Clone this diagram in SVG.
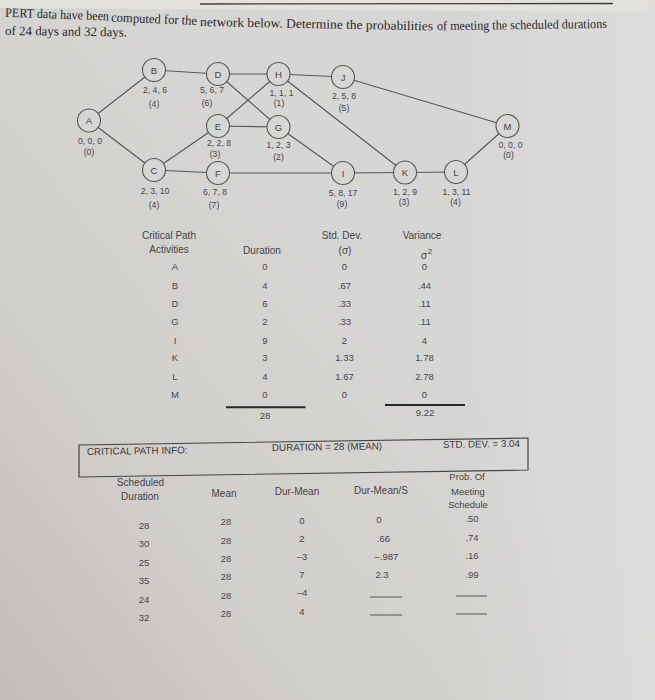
<svg xmlns="http://www.w3.org/2000/svg" width="655" height="700" viewBox="0 0 655 700">
<defs>
<linearGradient id="bg" x1="0" y1="700" x2="450" y2="350" gradientUnits="userSpaceOnUse">
<stop offset="0" stop-color="#c2bdb8"/>
<stop offset="0.45" stop-color="#d1cfcc"/>
<stop offset="1" stop-color="#d6d6d4"/>
</linearGradient>
<linearGradient id="rt" x1="450" y1="0" x2="655" y2="0" gradientUnits="userSpaceOnUse">
<stop offset="0" stop-color="#dcdcda" stop-opacity="0"/>
<stop offset="1" stop-color="#dedede" stop-opacity="0.8"/>
</linearGradient>
</defs>
<style>
.hd{font-family:"Liberation Serif","Times New Roman",serif;font-size:13px;fill:#2a2a2a}
.nl{font-family:"Liberation Sans",Arial,sans-serif;font-size:9.5px;fill:#444;text-anchor:middle}
.lb{font-family:"Liberation Sans",Arial,sans-serif;font-size:8.6px;fill:#444;text-anchor:middle}
.tx{font-family:"Liberation Sans",Arial,sans-serif;font-size:10px;fill:#444;text-anchor:middle}
.tv{font-family:"Liberation Sans",Arial,sans-serif;font-size:9.5px;fill:#474747;text-anchor:middle}
.ts{font-family:"Liberation Sans",Arial,sans-serif;font-size:9.8px;fill:#3a3a3a}
.node circle{fill:#d6d6d4;stroke:#555;stroke-width:1.1}
.edge line{stroke:#575757;stroke-width:1.1}
.rule{stroke:#262626;stroke-width:2}
.blank{stroke:#555;stroke-width:1}
</style>
<rect x="0" y="0" width="655" height="700" fill="url(#bg)"/>
<rect x="450" y="0" width="205" height="700" fill="url(#rt)"/>
<polygon points="0,0 648,0 648,12 0,8" fill="#e4e2dd"/>
<line x1="200" y1="4" x2="613" y2="3.5" stroke="#3a3a3a" stroke-width="1.3"/>

<!-- heading -->
<text class="hd" x="5" y="16.7" textLength="104" lengthAdjust="spacingAndGlyphs" transform="rotate(2.1 5 16.7)">PERT data have been</text>
<text class="hd" x="111" y="21.6" textLength="86" lengthAdjust="spacingAndGlyphs" transform="rotate(2.2 111 21.6)">computed for the</text>
<text class="hd" x="200" y="26" textLength="233" lengthAdjust="spacingAndGlyphs" transform="rotate(1.1 200 26)">network below. Determine the probabilities</text>
<text class="hd" x="437" y="30.3" textLength="170" lengthAdjust="spacingAndGlyphs" transform="rotate(-0.8 437 30.3)">of meeting the scheduled durations</text>
<text class="hd" x="5" y="35" textLength="122" lengthAdjust="spacingAndGlyphs" transform="rotate(0.7 5 35)">of 24 days and 32 days.</text>

<!-- connectors -->
<g id="connectors" class="edge">
<line x1="89" y1="120.5" x2="154" y2="70"/>
<line x1="89" y1="120.5" x2="154" y2="170"/>
<line x1="154" y1="70" x2="218" y2="74"/>
<line x1="218" y1="74" x2="278.5" y2="74"/>
<line x1="218" y1="74" x2="278.5" y2="127"/>
<line x1="218" y1="126" x2="278.5" y2="74"/>
<line x1="218" y1="126" x2="278.5" y2="127"/>
<line x1="154" y1="170" x2="218" y2="126"/>
<line x1="154" y1="170" x2="218" y2="173"/>
<line x1="218" y1="173" x2="343" y2="173"/>
<line x1="278.5" y1="127" x2="343" y2="173"/>
<line x1="278.5" y1="74" x2="343" y2="77"/>
<line x1="278.5" y1="74" x2="405" y2="172.5"/>
<line x1="343" y1="77" x2="507.5" y2="126"/>
<line x1="343" y1="173" x2="405" y2="172.5"/>
<line x1="405" y1="172.5" x2="456" y2="172"/>
<line x1="456" y1="172" x2="507.5" y2="126"/>
</g>

<!-- nodes -->
<g id="node-A" class="node"><circle cx="89" cy="120.5" r="11.5"/><text class="nl" x="89" y="124">A</text><text class="lb" x="90" y="144">0, 0, 0</text><text class="lb" x="89" y="155">(0)</text></g>
<g id="node-B" class="node"><circle cx="154" cy="70" r="11.5"/><text class="nl" x="154" y="73.5">B</text><text class="lb" x="155" y="93">2, 4, 6</text><text class="lb" x="154" y="106.5">(4)</text></g>
<g id="node-C" class="node"><circle cx="154" cy="170" r="11.5"/><text class="nl" x="154" y="173.5">C</text><text class="lb" x="155" y="194">2, 3, 10</text><text class="lb" x="154" y="208">(4)</text></g>
<g id="node-D" class="node"><circle cx="218" cy="74" r="11.5"/><text class="nl" x="218" y="77.5">D</text><text class="lb" x="212" y="93">5, 6, 7</text><text class="lb" x="207" y="105.5">(6)</text></g>
<g id="node-E" class="node"><circle cx="218" cy="126" r="11.5"/><text class="nl" x="218" y="129.5">E</text><text class="lb" x="219" y="145.5">2, 2, 8</text><text class="lb" x="215" y="157">(3)</text></g>
<g id="node-F" class="node"><circle cx="218" cy="173" r="11.5"/><text class="nl" x="218" y="176.5">F</text><text class="lb" x="215" y="195">6, 7, 8</text><text class="lb" x="214" y="208">(7)</text></g>
<g id="node-G" class="node"><circle cx="278.5" cy="127" r="11.5"/><text class="nl" x="278.5" y="130.5">G</text><text class="lb" x="278.5" y="147.5">1, 2, 3</text><text class="lb" x="278.5" y="160">(2)</text></g>
<g id="node-H" class="node"><circle cx="278.5" cy="74" r="11.5"/><text class="nl" x="278.5" y="77.5">H</text><text class="lb" x="281.5" y="95.5">1, 1, 1</text><text class="lb" x="279" y="106">(1)</text></g>
<g id="node-J" class="node"><circle cx="343" cy="77" r="11.5"/><text class="nl" x="343" y="80.5">J</text><text class="lb" x="344" y="99">2, 5, 8</text><text class="lb" x="344" y="111">(5)</text></g>
<g id="node-I" class="node"><circle cx="343" cy="173" r="11.5"/><text class="nl" x="343" y="176.5">I</text><text class="lb" x="343" y="195.5">5, 8, 17</text><text class="lb" x="342" y="207">(9)</text></g>
<g id="node-K" class="node"><circle cx="405" cy="172.5" r="11.5"/><text class="nl" x="405" y="176">K</text><text class="lb" x="405" y="194.5">1, 2, 9</text><text class="lb" x="404" y="205">(3)</text></g>
<g id="node-L" class="node"><circle cx="456" cy="172" r="11.5"/><text class="nl" x="456" y="175.5">L</text><text class="lb" x="456.5" y="194.5">1, 3, 11</text><text class="lb" x="455.5" y="205">(4)</text></g>
<g id="node-M" class="node"><circle cx="507.5" cy="126" r="11.5"/><text class="nl" x="507.5" y="129.5">M</text><text class="lb" x="510.5" y="147.5">0, 0, 0</text><text class="lb" x="508.5" y="157.5">(0)</text></g>

<!-- critical path table -->
<text class="tx" x="169" y="238.5">Critical Path</text>
<text class="tx" x="169" y="253">Activities</text>
<text class="tx" x="262" y="254">Duration</text>
<text class="tx" x="342" y="238.5">Std. Dev.</text>
<text class="tx" x="345" y="254">(σ)</text>
<text class="tx" x="422" y="239">Variance</text>
<text class="tx" x="424" y="258.5">σ</text>
<text class="tx" x="430" y="254" style="font-size:8px">2</text>

<g class="tv">
<text x="175" y="270.2">A</text><text x="265" y="270.2">0</text><text x="344.5" y="270.2">0</text><text x="424.5" y="270.2">0</text>
<text x="175" y="288.5">B</text><text x="265" y="288.5">4</text><text x="344.5" y="288.5">.67</text><text x="424.5" y="288.5">.44</text>
<text x="175" y="306.8">D</text><text x="265" y="306.8">6</text><text x="344.5" y="306.8">.33</text><text x="424.5" y="306.8">.11</text>
<text x="175" y="325.2">G</text><text x="265" y="325.2">2</text><text x="344.5" y="325.2">.33</text><text x="424.5" y="325.2">.11</text>
<text x="175" y="343.5">I</text><text x="265" y="343.5">9</text><text x="344.5" y="343.5">2</text><text x="424.5" y="343.5">4</text>
<text x="175" y="361.2">K</text><text x="265" y="361.2">3</text><text x="344.5" y="361.2">1.33</text><text x="424.5" y="361.2">1.78</text>
<text x="175" y="379.5">L</text><text x="265" y="379.5">4</text><text x="344.5" y="379.5">1.67</text><text x="424.5" y="379.5">2.78</text>
<text x="175" y="397.5">M</text><text x="265" y="397.5">0</text><text x="344.5" y="397.5">0</text><text x="424.5" y="397.5">0</text>
<text x="265" y="418.5">28</text>
<text x="425" y="416">9.22</text>
</g>
<line class="rule" x1="226" y1="407.3" x2="305.5" y2="407.3"/>
<line class="rule" x1="385" y1="405" x2="465" y2="405"/>

<!-- critical path info box -->
<polygon points="79,445 528,438 528,470 79,477" fill="none" stroke="#444" stroke-width="1.2"/>
<text class="ts" x="87" y="455" transform="rotate(-0.9 87 455)">CRITICAL PATH INFO:</text>
<text class="ts" x="272" y="451" transform="rotate(-0.9 272 451)">DURATION = 28 (MEAN)</text>
<text class="ts" x="443" y="448" textLength="77" lengthAdjust="spacingAndGlyphs" transform="rotate(-0.9 443 448)">STD. DEV. = 3.04</text>

<!-- probability table -->
<text class="tx" x="140.5" y="486">Scheduled</text>
<text class="tx" x="140" y="499.5">Duration</text>
<text class="tx" x="224" y="497">Mean</text>
<text class="tx" x="297" y="495">Dur-Mean</text>
<text class="tx" x="381" y="494">Dur-Mean/S</text>
<text class="tx" x="467" y="480" style="font-size:9.5px">Prob. Of</text>
<text class="tx" x="468" y="494.5" style="font-size:9.5px">Meeting</text>
<text class="tx" x="468" y="507.5" style="font-size:9.5px">Schedule</text>

<g class="tv">
<text x="144" y="529">28</text><text x="226" y="525">28</text><text x="302" y="523.5">0</text><text x="379" y="523">0</text><text x="472" y="522">.50</text>
<text x="144" y="547">30</text><text x="226" y="543.5">28</text><text x="302" y="542">2</text><text x="383.5" y="542">.66</text><text x="472" y="541">.74</text>
<text x="144" y="566">25</text><text x="226" y="562">28</text><text x="302" y="560">–3</text><text x="386.5" y="559.5">–.987</text><text x="472" y="559">.16</text>
<text x="144" y="584">35</text><text x="226" y="580">28</text><text x="302" y="577.5">7</text><text x="382" y="578">2.3</text><text x="472" y="577.5">.99</text>
<text x="144" y="603">24</text><text x="226" y="598.5">28</text><text x="302" y="596">–4</text>
<text x="144" y="621">32</text><text x="226" y="617">28</text><text x="302" y="615">4</text>
</g>
<line class="blank" x1="370" y1="597" x2="402" y2="597"/>
<line class="blank" x1="370" y1="615" x2="402" y2="615"/>
<line class="blank" x1="456" y1="596" x2="487" y2="596"/>
<line class="blank" x1="456" y1="614" x2="487" y2="614"/>
</svg>
